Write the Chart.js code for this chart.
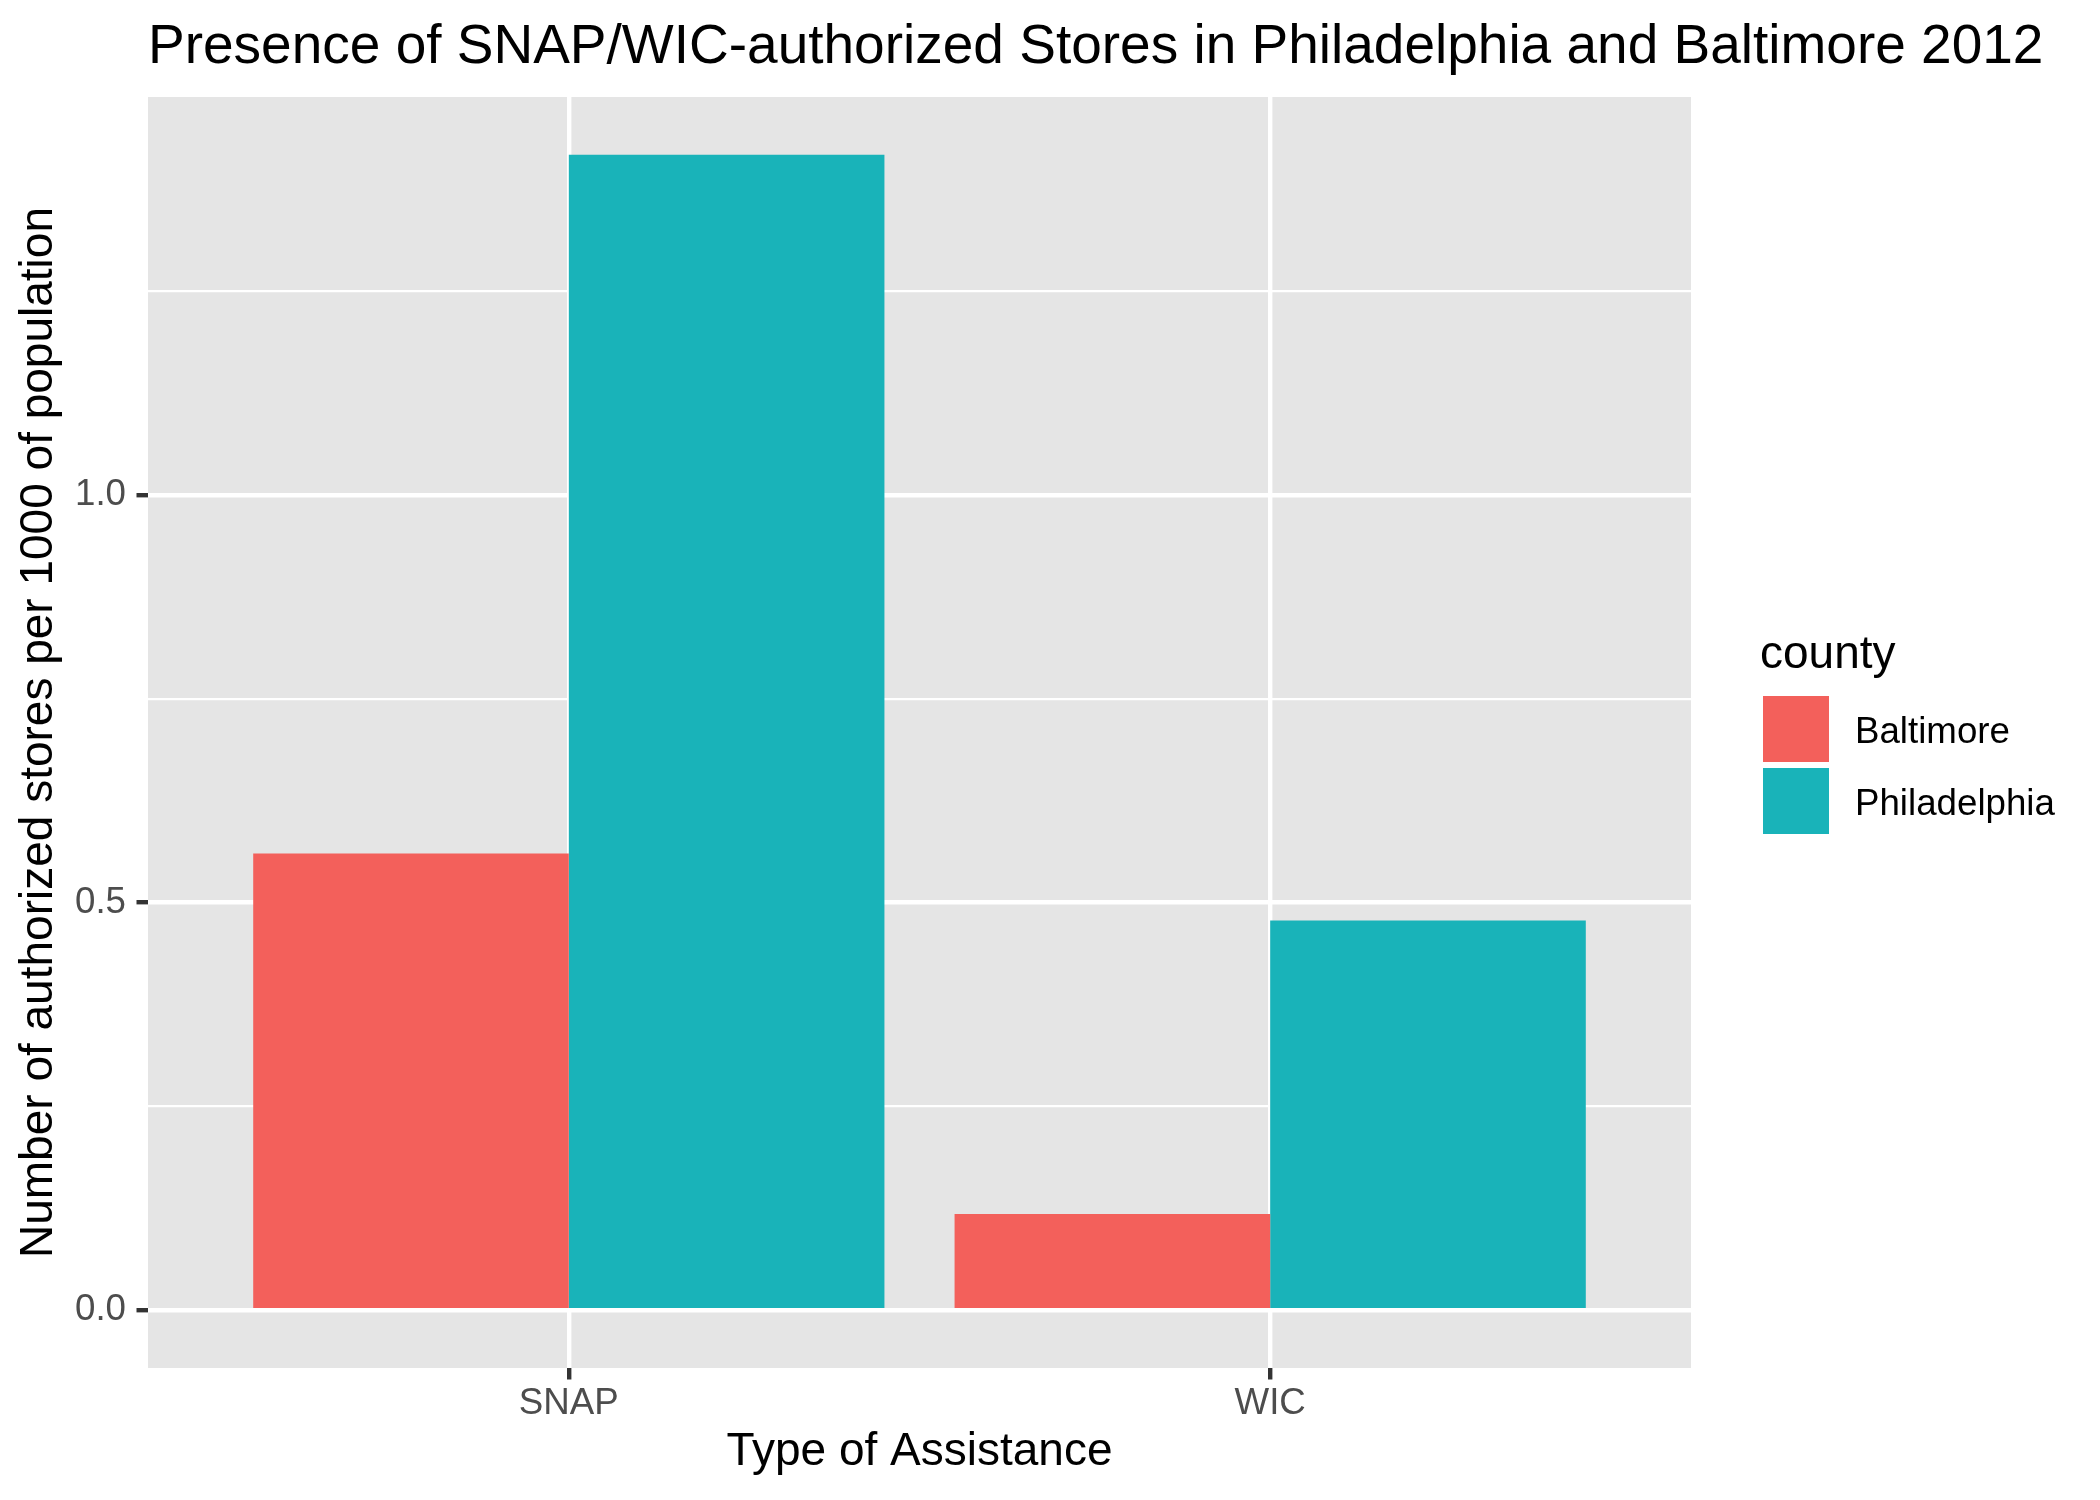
<!DOCTYPE html>
<html>
<head>
<meta charset="utf-8">
<script src="https://cdn.jsdelivr.net/npm/chart.js@4"></script>
<style>
  html, body { margin: 0; padding: 0; background: #ffffff; }
  #wrap { width: 2100px; height: 1500px; }
</style>
</head>
<body>
<div id="wrap"><canvas id="c" width="2100" height="1500"></canvas></div>
<script>
// ---- data ----
const categories = ['SNAP', 'WIC'];
const seriesNames = ['Baltimore', 'Philadelphia'];
const baltimoreValues = [0.560, 0.118];
const philadelphiaValues = [1.417, 0.478];
const yMajorTicks = [0, 0.5, 1.0];
const yMinorTicks = [0.25, 0.75, 1.25];
const yTickLabels = ['0.0', '0.5', '1.0'];
const chartTitle = 'Presence of SNAP/WIC-authorized Stores in Philadelphia and Baltimore 2012';
const xAxisTitle = 'Type of Assistance';
const yAxisTitle = 'Number of authorized stores per 1000 of population';
const legendTitle = 'county';

// ---- style ----
const FONT = "'Liberation Sans', Arial, Helvetica, sans-serif";
const seriesColors = ['#F3605B', '#19B3B9'];
const panelColor = '#E5E5E5';
const tickMarkColor = '#333333';
const tickLabelColor = '#4D4D4D';

Chart.defaults.font.family = FONT;

const allValues = baltimoreValues.concat(philadelphiaValues);
const dataMax = Math.max(...allValues);
const yMin = -0.05 * dataMax;
const yMax = dataMax * 1.05;

const toPoints = arr => arr.map((v, i) => ({ x: i + 1, y: v }));
const isMajorY = v => yMajorTicks.some(t => Math.abs(t - v) < 1e-9);

const panelPlugin = {
  id: 'panelBg',
  beforeDraw(chart) {
    const a = chart.chartArea, ctx = chart.ctx;
    ctx.save();
    ctx.fillStyle = panelColor;
    ctx.fillRect(a.left, a.top, a.right - a.left, a.bottom - a.top);
    ctx.restore();
  }
};

const titlePlugin = {
  id: 'ggTitle',
  afterDraw(chart) {
    const a = chart.chartArea, ctx = chart.ctx;
    ctx.save();
    ctx.fillStyle = '#000000';
    ctx.font = '55px ' + FONT;
    ctx.textAlign = 'left';
    ctx.textBaseline = 'alphabetic';
    ctx.fillText(chartTitle, a.left, a.top - 34);
    ctx.restore();
  }
};

const legendPlugin = {
  id: 'ggLegend',
  afterDraw(chart) {
    const a = chart.chartArea, ctx = chart.ctx;
    const cy = (a.top + a.bottom) / 2;
    ctx.save();
    ctx.textAlign = 'left';
    ctx.fillStyle = '#000000';
    ctx.font = '46px ' + FONT;
    ctx.textBaseline = 'alphabetic';
    ctx.fillText(legendTitle, a.right + 69, cy - 65);
    chart.data.datasets.forEach((ds, i) => {
      const ky = cy - 36.5 + i * 72;
      ctx.fillStyle = ds.backgroundColor;
      ctx.fillRect(a.right + 72, ky, 66, 66);
      ctx.fillStyle = '#000000';
      ctx.font = '36.7px ' + FONT;
      ctx.textBaseline = 'alphabetic';
      ctx.fillText(ds.label, a.right + 164, ky + 47);
    });
    ctx.restore();
  }
};

new Chart(document.getElementById('c'), {
  type: 'bar',
  data: {
    datasets: [
      { label: seriesNames[0], data: toPoints(baltimoreValues), backgroundColor: seriesColors[0], borderWidth: 0 },
      { label: seriesNames[1], data: toPoints(philadelphiaValues), backgroundColor: seriesColors[1], borderWidth: 0 }
    ]
  },
  options: {
    responsive: false,
    animation: false,
    events: [],
    layout: { padding: { left: 0, right: 409, top: 97, bottom: 0 } },
    datasets: { bar: { categoryPercentage: 0.9, barPercentage: 1.0 } },
    plugins: {
      legend: { display: false },
      tooltip: { enabled: false },
      title: { display: false }
    },
    scales: {
      x: {
        type: 'linear',
        offset: false,
        min: 0.4,
        max: 2.6,
        afterBuildTicks(scale) {
          scale.ticks = categories.map((c, i) => ({ value: i + 1 }));
        },
        afterFit(scale) { scale.height = 132; },
        border: { display: false },
        grid: {
          offset: false,
          color: '#FFFFFF',
          lineWidth: 4.4,
          drawTicks: true,
          tickLength: 11.5,
          tickColor: tickMarkColor,
          tickWidth: 4.4
        },
        ticks: {
          padding: 2,
          color: tickLabelColor,
          font: { size: 36.7 },
          maxRotation: 0,
          autoSkip: false,
          callback: (v) => categories[Math.round(v) - 1] || ''
        },
        title: {
          display: true,
          text: xAxisTitle,
          color: '#000000',
          font: { size: 46 },
          padding: { top: 0, bottom: 20 }
        }
      },
      y: {
        type: 'linear',
        min: yMin,
        max: yMax,
        afterBuildTicks(scale) {
          scale.ticks = yMajorTicks.concat(yMinorTicks).sort((p, q) => p - q).map(v => ({ value: v }));
        },
        afterFit(scale) { scale.width = 148; },
        border: { display: false },
        grid: {
          color: '#FFFFFF',
          lineWidth: (ctx) => (ctx.tick && isMajorY(ctx.tick.value)) ? 4.4 : 2.2,
          drawTicks: true,
          tickLength: 11.5,
          tickColor: (ctx) => (ctx.tick && isMajorY(ctx.tick.value)) ? tickMarkColor : 'rgba(0,0,0,0)',
          tickWidth: 4.4
        },
        ticks: {
          padding: 10.5,
          color: tickLabelColor,
          font: { size: 36.7 },
          autoSkip: false,
          callback: (v) => {
            const idx = yMajorTicks.findIndex(t => Math.abs(t - v) < 1e-9);
            return idx >= 0 ? yTickLabels[idx] : '';
          }
        },
        title: {
          display: true,
          text: yAxisTitle,
          color: '#000000',
          font: { size: 46 },
          padding: { top: 11.5, bottom: 0 }
        }
      }
    }
  },
  plugins: [panelPlugin, titlePlugin, legendPlugin]
});
</script>
</body>
</html>
